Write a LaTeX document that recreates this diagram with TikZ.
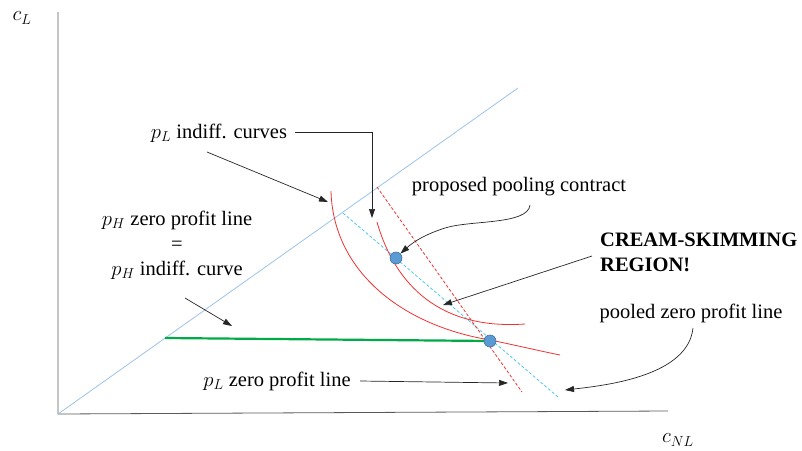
\documentclass[tikz,border=0pt]{standalone}
\usepackage{fontspec}
\setmainfont{Liberation Serif}
\usetikzlibrary{arrows.meta}
\definecolor{axisgray}{RGB}{90,90,90}
\definecolor{diagblue}{RGB}{157,195,230}
\definecolor{poolcyan}{RGB}{80,200,235}
\definecolor{indred}{RGB}{240,50,50}
\definecolor{zpgreen}{RGB}{0,170,70}
\definecolor{dotfill}{RGB}{91,155,213}
\definecolor{dotedge}{RGB}{65,113,156}
\tikzset{
  lbl/.style={font=\fontsize{20.5}{25}\selectfont, inner sep=0pt},
  axlbl/.style={font=\fontsize{22}{26}\selectfont, inner sep=0pt},
  pointer/.style={draw=black!85, line width=0.7pt, -{Triangle[length=9pt,width=6pt]}},
  indiff/.style={draw=indred, line width=0.8pt},
  contract/.style={circle, fill=dotfill, draw=dotedge, line width=0.6pt, minimum size=12pt, inner sep=0pt}
}
\begin{document}
\begin{tikzpicture}[x=1pt,y=-1pt]
\useasboundingbox (0,0) rectangle (802,450);

% axes
\draw[axisgray, line width=0.8pt] (58,12) -- (58,414) -- (668,411);
\node[axlbl] (cl) at (22,18) {$c_L$};
\node[axlbl] (cnl) at (678,440) {$c_{NL}$};

% 45-degree line
\draw[diagblue, line width=0.8pt] (58,414) -- (518,88);

% pH zero profit line
\draw[zpgreen, line width=2.2pt] (165,338) -- (490,341);

% zero profit lines
\draw[poolcyan, dashed, line width=0.8pt, dash pattern=on 3pt off 2pt] (343,213) -- (558,397);
\draw[indred, dashed, line width=0.8pt, dash pattern=on 3pt off 2pt] (377,187) -- (522,392);

% pL indifference curves
\draw[indiff] (331,191) .. controls (333,270) and (400,325) .. (490,340)
  .. controls (515,345) and (540,351) .. (560,355);
\draw[indiff] (377,222) .. controls (395,285) and (440,330) .. (525,324);

% contracts
\node[contract] (pool) at (396,258) {};
\node[contract] (sep) at (490,341) {};

% labels
\node[lbl] (lic) at (219,133) {$p_L$ indiff. curves};
\node[lbl] (ppc) at (519,187) {proposed pooling contract};
\node[lbl, font=\fontsize{20.5}{25}\selectfont\bfseries, align=left, anchor=west] (csr) at (600,252) {CREAM-SKIMMING\\REGION!};
\node[lbl] (pzp) at (691,313) {pooled zero profit line};
\node[lbl] (lzp) at (277,381) {$p_L$ zero profit line};
\node[lbl, align=center] (hzp) at (177,245) {$p_H$ zero profit line\\=\\$p_H$ indiff. curve};

% pointers
\coordinate (a1s) at (207,152);
\coordinate (a1e) at (328,202);
\draw[pointer] (a1s) -- (a1e);
\coordinate (a2s) at (295,132);
\coordinate (a2e) at (372,218);
\draw[pointer] (a2s) -| (a2e);
\coordinate (a3s) at (530,205);
\draw[pointer] (a3s) .. controls (528,225) and (470,220) .. (445,228) .. controls (420,236) and (410,245) .. (pool.north east);
\coordinate (a4s) at (592,256);
\coordinate (a4e) at (443,305);
\draw[pointer] (a4s) -- (a4e);
\coordinate (a5s) at (693,328);
\coordinate (a5e) at (565,390);
\draw[pointer] (a5s) .. controls (688,375) and (610,385) .. (a5e);
\coordinate (a6s) at (360,381);
\coordinate (a6e) at (508,383);
\draw[pointer] (a6s) -- (a6e);
\coordinate (a7s) at (185,298);
\coordinate (a7e) at (232,326);
\draw[pointer] (a7s) -- (a7e);
\end{tikzpicture}
\end{document}
